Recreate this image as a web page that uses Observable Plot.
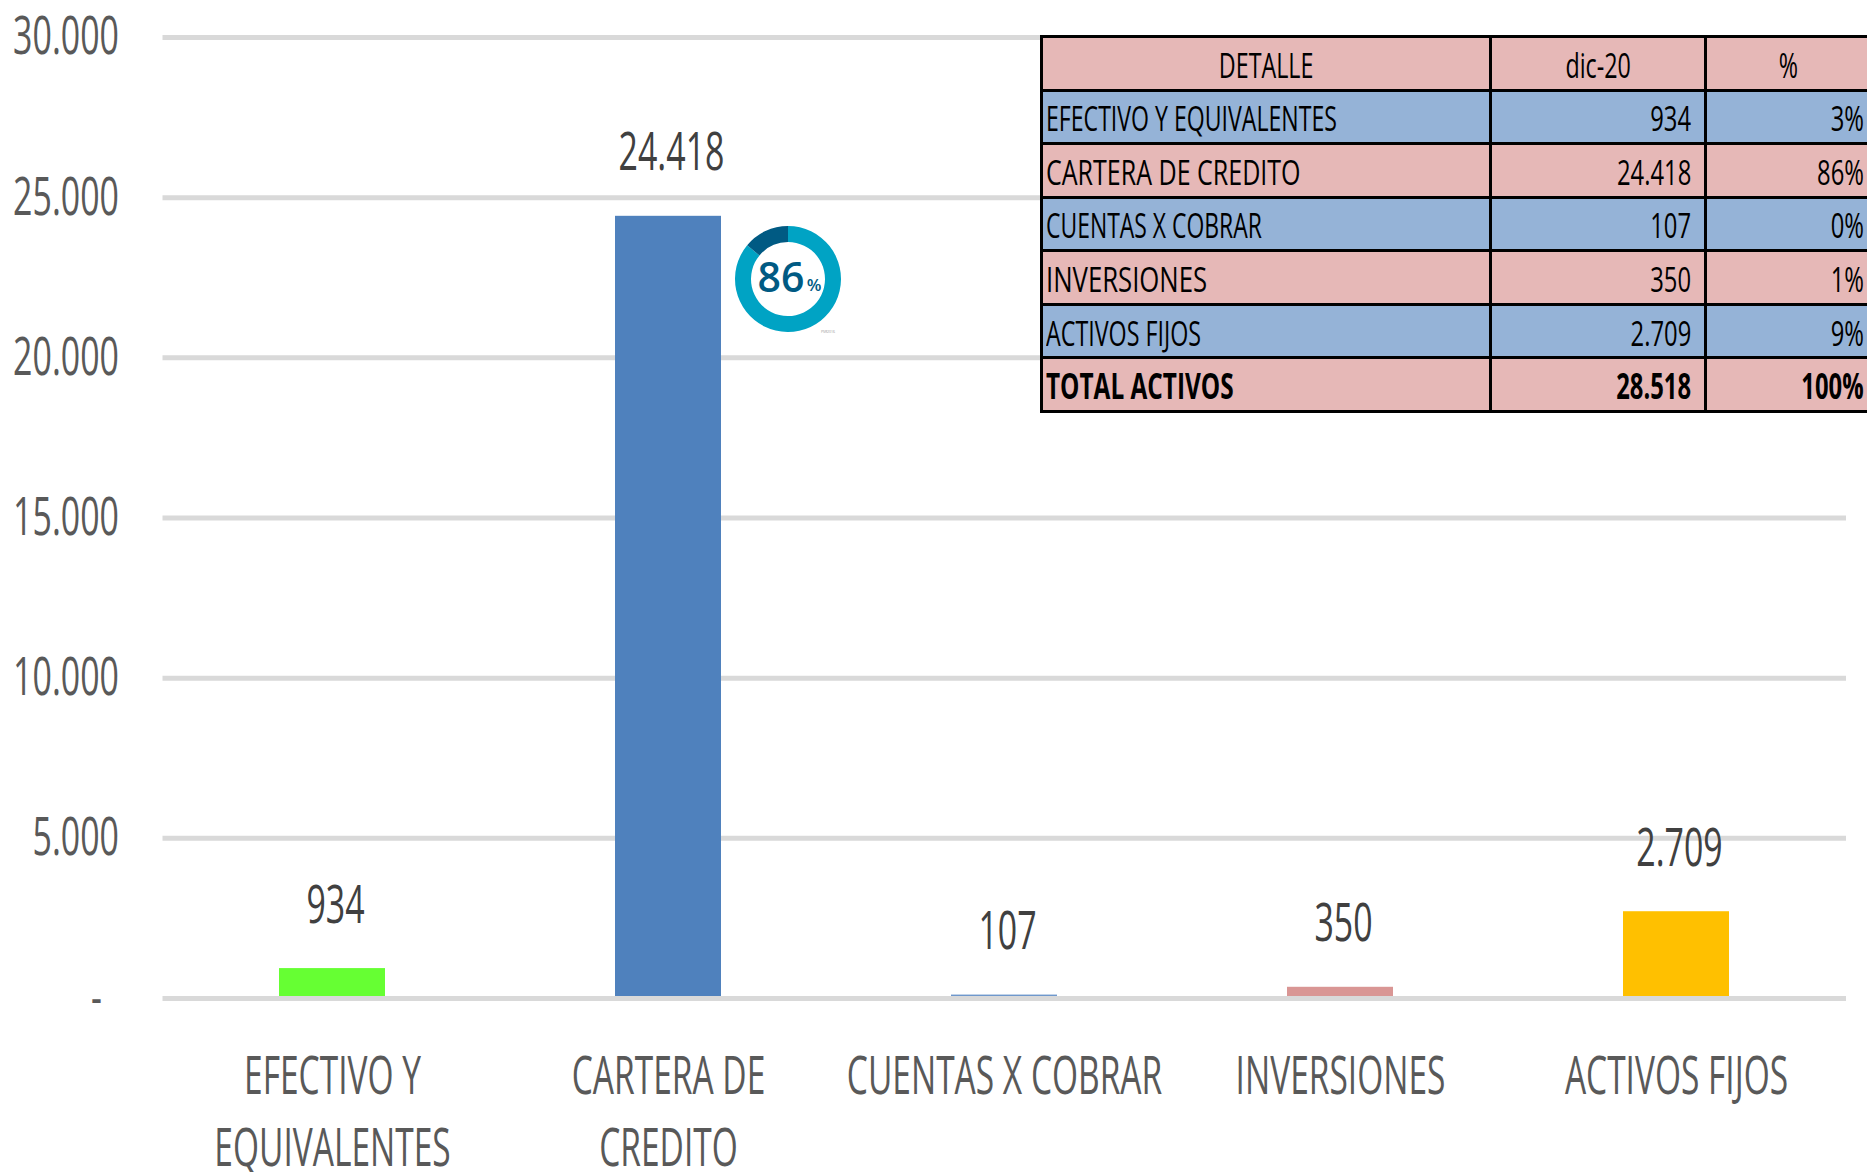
<!DOCTYPE html>
<html><head><meta charset="utf-8">
<script src="https://cdn.jsdelivr.net/npm/d3@7"></script>
<script src="https://cdn.jsdelivr.net/npm/@observablehq/plot@0.6"></script>
<style>
html,body{margin:0;padding:0;background:#fff;overflow:hidden;width:1867px;height:1172px}
#wrap{position:relative;width:1867px;height:1172px;overflow:hidden}
svg{display:block;font-family:"Open Sans",sans-serif}
table{position:absolute;left:1040px;top:35px;width:829px;border-collapse:collapse;table-layout:fixed;font-family:"Open Sans",sans-serif;font-size:35px;color:#000}
td{border:3px solid #000;height:50.57px;padding:0;white-space:nowrap;overflow:hidden;box-sizing:content-box;line-height:1}
td span{display:inline-block;position:relative;top:1px}
td.l{padding-left:3px;text-align:left} td.l span{transform:scaleX(.665);transform-origin:left center}
td.c{text-align:center} td.c span{transform:scaleX(.665);transform-origin:center center}
td.r{padding-right:13px;text-align:right} td.r span{transform:scaleX(.68);transform-origin:right center}
td.p{padding-right:5px}
tr.total{font-weight:700}
</style></head><body><div id="wrap"></div>
<script>
const categories=["EFECTIVO Y EQUIVALENTES","CARTERA DE CREDITO","CUENTAS X COBRAR","INVERSIONES","ACTIVOS FIJOS"];
const axisLabels=["EFECTIVO Y\nEQUIVALENTES","CARTERA DE\nCREDITO","CUENTAS X COBRAR","INVERSIONES","ACTIVOS FIJOS"];
const values=[934,24418,107,350,2709];
const barColors=["#66ff33","#4f81bd","#6f98cc","#d99694","#ffc000"];
const yTicks=[0,5000,10000,15000,20000,25000,30000];
const tableHeader=["DETALLE","dic-20","%"];
const tableValues=["934","24.418","107","350","2.709"];
const tablePct=["3%","86%","0%","1%","9%"];
const tableTotal=["TOTAL ACTIVOS","28.518","100%"];
const donutValues=[86,14];
const donutColors=["#00a3c4","#005a83"];
const donutLabel="86", donutUnit="%", donutNote="PSR2016";
const firstColSqueeze=[.66,.715,.655,.735,.665];

const fmt=v=>v===0?"-\u2002":d3.format(",")(v).replace(/,/g,".");
const rows=categories.map((c,i)=>({c,v:values[i],color:barColors[i]}));

function donut(index,scales,vals,dims){
  const g=d3.create("svg:g").attr("transform","translate(788,279)");
  const pie=d3.pie().sort(null).startAngle(0).endAngle(2*Math.PI);
  const arc=d3.arc().innerRadius(37).outerRadius(53);
  g.selectAll("path").data(pie(donutValues)).join("path").attr("d",arc).attr("fill",(d,i)=>donutColors[i]);
  g.append("text").attr("class","nosq").attr("x",-7).attr("y",13).attr("text-anchor","middle").attr("font-size",41).attr("font-weight",600).attr("fill","#005a83").text(donutLabel);
  g.append("text").attr("class","nosq").attr("x",26).attr("y",12).attr("text-anchor","middle").attr("font-size",17).attr("font-weight",600).attr("fill","#005a83").text(donutUnit);
  g.append("text").attr("class","nosq").attr("x",40).attr("y",54).attr("text-anchor","middle").attr("font-size",3.5).attr("fill","#999").text(donutNote);
  return g.node();
}

const chart=Plot.plot({
  width:1867,height:1172,marginLeft:162.5,marginRight:21,marginTop:37,marginBottom:174,
  style:{background:"#fff",fontFamily:'"Open Sans",sans-serif'},
  x:{domain:categories,paddingInner:0.685,paddingOuter:0.3425,align:0.5,label:null},
  y:{domain:[0,30000],label:null},
  marks:[
    Plot.ruleY(yTicks.filter(d=>d>0),{stroke:"#d9d9d9",strokeWidth:5}),
    Plot.barY(rows,{x:"c",y:"v",fill:"color"}),
    Plot.ruleY([0],{stroke:"#d9d9d9",strokeWidth:5}),
    Plot.axisY({ticks:yTicks,tickFormat:fmt,tickSize:0,tickPadding:0,fontSize:53,dx:-44,dy:0,fill:"#595959",label:null}),
    Plot.axisX({tickFormat:d=>axisLabels[categories.indexOf(d)],tickSize:0,tickPadding:0,fontSize:53,dy:43.5,lineHeight:1.37,lineAnchor:"top",fill:"#595959",label:null}),
    Plot.text(rows,{x:"c",y:"v",text:d=>fmt(d.v),dy:-46,dx:3,lineAnchor:"bottom",fontSize:53,fill:"#404040"}),
    donut
  ]
});
const wrap=document.getElementById("wrap");
wrap.appendChild(chart);

// narrow the installed font to the reference's condensed look
function squeeze(el,k){
  const tspans=el.querySelectorAll("tspan");
  (tspans.length?[...tspans]:[el]).forEach(t=>{
    const w=t.getComputedTextLength();
    t.setAttribute("textLength",w*k);
    t.setAttribute("lengthAdjust","spacingAndGlyphs");
  });
}
chart.querySelectorAll("text:not(.nosq)").forEach(t=>squeeze(t,t.querySelector("tspan")||axisLabels.includes(t.textContent)?0.632:0.64));

// data table
const table=d3.select(wrap).append("table");
const cg=table.append("colgroup");
[449,215,165].forEach(w=>cg.append("col").style("width",w+"px"));
const addRow=(cells,cls,bg,first,sq)=>{
  const tr=table.append("tr").attr("class",cls||null).style("background",bg);
  cells.forEach((t,i)=>{
    const s=tr.append("td").attr("class",first?"c":(i===0?"l":(i===2?"r p":"r"))).append("span").text(t);
    if(i===0&&sq) s.style("transform",`scaleX(${sq})`);
  });
};
const pink="#e6b8b7",blue="#95b3d7";
addRow(tableHeader,null,pink,true);
categories.forEach((c,i)=>addRow([c,tableValues[i],tablePct[i]],null,i%2?pink:blue,false,firstColSqueeze[i]));
addRow(tableTotal,"total",pink,false,.696);
</script></body></html>
